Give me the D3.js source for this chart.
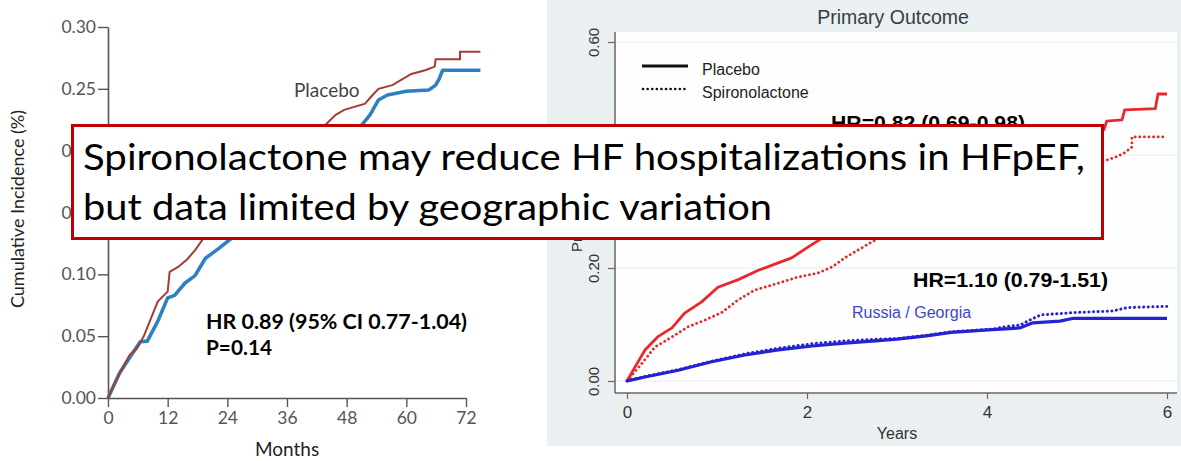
<!DOCTYPE html>
<head>
<meta charset="utf-8">
<script src="https://cdn.jsdelivr.net/npm/d3@7"></script>
<style>
body { margin: 0; background: #fff; }
svg { display: block; }
.lt text { font-family: Lato, "Open Sans", sans-serif; }
.rt text { font-family: "Liberation Sans", Arial, sans-serif; }
</style>
</head>
<body>
<svg id="chart" width="1181" height="461"></svg>
<script>
// ---- left panel data (months, cumulative incidence) ----
var monthTicks = [0, 12, 24, 36, 48, 60, 72];
var incTicks = [0, 0.05, 0.10, 0.15, 0.20, 0.25, 0.30];

var placeboAll = [[0,0],[1,0.009],[2,0.017],[3,0.025],[4.4,0.035],[5.8,0.040],[7.2,0.050],[8.6,0.064],
  [10,0.078],[12,0.086],[12.4,0.102],[14.1,0.106],[15.9,0.112],[17.6,0.12],[19,0.128],[21,0.137],
  [24,0.15],[27,0.162],[30,0.175],[33,0.186],[36,0.196],[39,0.205],[42,0.215],[44,0.222],[45.8,0.229],
  [47.5,0.233],[51.7,0.238],[53,0.244],[54.4,0.25],[57.2,0.253],[59.3,0.258],[61,0.262],[63.8,0.265],
  [65.7,0.268],[65.9,0.274],[70.8,0.274],[70.8,0.28],[74.9,0.28]];
var spiroAll = [[0,0],[2.3,0.02],[4.4,0.033],[6.5,0.0455],[7.9,0.046],[10,0.062],[12,0.081],[13.4,0.083],
  [15.5,0.093],[17.5,0.099],[19.6,0.113],[22.3,0.121],[25.1,0.13],[28,0.142],[32,0.158],[36,0.172],
  [40,0.186],[44,0.198],[48,0.21],[51.3,0.222],[52.7,0.229],[54.4,0.241],[56.2,0.245],[60,0.248],
  [64.5,0.249],[65.2,0.251],[65.9,0.253],[66.6,0.258],[67.3,0.265],[74.9,0.265]];

// ---- right panel data (years, proportion) ----
var yearTicks = [0, 2, 4, 6];
var propTicks = [0, 0.2, 0.4, 0.6];

var amPlacebo = [[0,0],[0.09,0.025],[0.2,0.055],[0.34,0.078],[0.5,0.094],[0.64,0.12],[0.83,0.14],
  [1.01,0.166],[1.23,0.179],[1.46,0.196],[1.68,0.209],[1.83,0.218],[2.01,0.237],[2.17,0.253],
  [2.5,0.28],[3.0,0.32],[3.5,0.36],[4.0,0.39],[4.5,0.415],[5.0,0.435],[5.3,0.445],[5.33,0.46],
  [5.5,0.462],[5.53,0.48],[5.87,0.482],[5.9,0.508],[6.0,0.508]];
var amSpiro = [[0,0],[0.17,0.032],[0.31,0.06],[0.5,0.078],[0.68,0.096],[0.87,0.108],[1.06,0.122],
  [1.23,0.143],[1.42,0.161],[1.68,0.173],[1.9,0.184],[2.12,0.191],[2.28,0.202],[2.42,0.218],
  [2.57,0.232],[2.72,0.246],[3.0,0.27],[3.5,0.31],[4.0,0.34],[4.5,0.365],[5.0,0.38],[5.33,0.391],
  [5.44,0.397],[5.52,0.403],[5.61,0.414],[5.61,0.432],[6.0,0.432]];
var rgPlacebo = [[0,0],[0.2,0.007],[0.57,0.019],[0.94,0.034],[1.31,0.046],[1.68,0.055],[2.06,0.062],
  [2.42,0.067],[2.76,0.071],[3.0,0.074],[3.33,0.08],[3.6,0.086],[4.06,0.091],[4.37,0.094],
  [4.51,0.103],[4.81,0.106],[4.96,0.111],[6.0,0.111]];
var rgSpiro = [[0,0],[0.2,0.008],[0.57,0.02],[0.94,0.035],[1.31,0.048],[1.68,0.058],[2.06,0.066],
  [2.42,0.071],[2.76,0.074],[3.0,0.075],[3.33,0.081],[3.6,0.087],[4.07,0.092],[4.2,0.096],
  [4.37,0.099],[4.5,0.11],[4.6,0.117],[4.96,0.121],[5.4,0.124],[5.56,0.13],[6.0,0.132]];

var svg = d3.select("#chart");

// ================= right panel =================
var rt = svg.append("g").attr("class", "rt");
rt.append("rect").attr("x", 547).attr("y", 0).attr("width", 634).attr("height", 446).attr("fill", "#eaeff2");
rt.append("rect").attr("x", 615).attr("y", 32).attr("width", 562).attr("height", 361).attr("fill", "#fefefe");

var xr = d3.scaleLinear().domain([0, 6]).range([627, 1167]);
var yr = d3.scaleLinear().domain([0, 0.6]).range([381, 42]);

rt.selectAll("line.grid").data(propTicks).enter().append("line")
  .attr("class", "grid")
  .attr("x1", 615).attr("x2", 1177)
  .attr("y1", d => yr(d)).attr("y2", d => yr(d))
  .attr("stroke", "#eef1f3").attr("stroke-width", 1.5);

rt.append("text").attr("x", 893).attr("y", 24).attr("text-anchor", "middle")
  .attr("font-size", 19.5).attr("fill", "#353d48").text("Primary Outcome");

var axL = rt.append("g").attr("transform", "translate(615,0)")
  .call(d3.axisLeft(yr).tickValues(propTicks).tickFormat(d3.format(".2f")).tickSize(7).tickSizeOuter(0));
axL.select(".domain").attr("d", "M0,32V393").attr("stroke", "#666").attr("stroke-width", 1.5);
axL.selectAll(".tick line").attr("stroke", "#666").attr("stroke-width", 1.2);
axL.selectAll(".tick text").attr("font-size", 15).attr("fill", "#333")
  .attr("transform", "rotate(-90)").attr("text-anchor", "middle").attr("x", 0).attr("y", -16).attr("dy", 0);

var axB = rt.append("g").attr("transform", "translate(0,393)")
  .call(d3.axisBottom(xr).tickValues(yearTicks).tickFormat(d3.format("d")).tickSize(6).tickSizeOuter(0));
axB.select(".domain").attr("d", "M615,0H1177").attr("stroke", "#666").attr("stroke-width", 1.5);
axB.selectAll(".tick line").attr("stroke", "#666").attr("stroke-width", 1.2);
axB.selectAll(".tick text").attr("font-size", 17).attr("fill", "#333").attr("y", 13);

rt.append("text").attr("x", 897).attr("y", 439).attr("text-anchor", "middle")
  .attr("font-size", 16).attr("fill", "#333").text("Years");
rt.append("text").attr("transform", "translate(582,252) rotate(-90)")
  .attr("font-size", 15).attr("fill", "#333").text("Probability");

var lineR = d3.line().x(d => xr(d[0])).y(d => yr(d[1]));
rt.append("path").datum(amSpiro).attr("d", lineR).attr("fill", "none")
  .attr("stroke", "#e8282b").attr("stroke-width", 2.8).attr("stroke-dasharray", "0.1,4.5").attr("stroke-linecap", "round");
rt.append("path").datum(amPlacebo).attr("d", lineR).attr("fill", "none")
  .attr("stroke", "#e8282b").attr("stroke-width", 2.8).attr("stroke-linejoin", "round");
rt.append("path").datum(rgSpiro).attr("d", lineR).attr("fill", "none")
  .attr("stroke", "#2323d4").attr("stroke-width", 3).attr("stroke-dasharray", "0.1,4.5").attr("stroke-linecap", "round");
rt.append("path").datum(rgPlacebo).attr("d", lineR).attr("fill", "none")
  .attr("stroke", "#2323d4").attr("stroke-width", 3.2).attr("stroke-linejoin", "round");

// legend
rt.append("line").attr("x1", 642).attr("x2", 688).attr("y1", 66).attr("y2", 66)
  .attr("stroke", "#111").attr("stroke-width", 3);
rt.append("line").attr("x1", 643).attr("x2", 688).attr("y1", 89).attr("y2", 89)
  .attr("stroke", "#111").attr("stroke-width", 2.6).attr("stroke-dasharray", "0.1,4.5").attr("stroke-linecap", "round");
rt.append("text").attr("x", 702).attr("y", 75).attr("font-size", 16).attr("fill", "#222").text("Placebo");
rt.append("text").attr("x", 702).attr("y", 98).attr("font-size", 16).attr("fill", "#222").text("Spironolactone");

rt.append("text").attr("x", 852).attr("y", 318).attr("font-size", 16).attr("fill", "#4046c8").text("Russia / Georgia");

rt.append("text").attr("x", 831).attr("y", 130).attr("font-family", "Lato, sans-serif").attr("font-weight", "bold")
  .attr("font-size", 21).attr("fill", "#000").attr("textLength", 194).attr("lengthAdjust", "spacingAndGlyphs")
  .text("HR=0.82 (0.69-0.98)");
rt.append("text").attr("x", 913).attr("y", 287).attr("font-family", "Lato, sans-serif").attr("font-weight", "bold")
  .attr("font-size", 21).attr("fill", "#000").attr("textLength", 195).attr("lengthAdjust", "spacingAndGlyphs")
  .text("HR=1.10 (0.79-1.51)");

// ================= left panel =================
var lt = svg.append("g").attr("class", "lt");
var xl = d3.scaleLinear().domain([0, 72]).range([108, 466]);
var yl = d3.scaleLinear().domain([0, 0.30]).range([398, 27]);

var lAx = lt.append("g").attr("transform", "translate(108,0)")
  .call(d3.axisLeft(yl).tickValues(incTicks).tickFormat(d3.format(".2f")).tickSize(10).tickSizeOuter(0));
var bAx = lt.append("g").attr("transform", "translate(0,398)")
  .call(d3.axisBottom(xl).tickValues(monthTicks).tickSize(9).tickSizeOuter(0));
[lAx, bAx].forEach(function(a) {
  a.select(".domain").attr("stroke", "#555").attr("stroke-width", 1.6);
  a.selectAll(".tick line").attr("stroke", "#555").attr("stroke-width", 1.4);
  a.selectAll(".tick text").attr("font-size", 17.5).attr("fill", "#555");
});
lAx.selectAll(".tick text").attr("x", -12);
bAx.selectAll(".tick text").attr("y", 14);

lt.append("text").attr("x", 287).attr("y", 456).attr("text-anchor", "middle")
  .attr("font-size", 19).attr("fill", "#222").text("Months");
lt.append("text").attr("transform", "translate(24,209) rotate(-90)").attr("text-anchor", "middle")
  .attr("font-size", 18).attr("fill", "#222").text("Cumulative Incidence (%)");

var lineL = d3.line().x(d => xl(d[0])).y(d => yl(d[1]));
lt.append("path").datum(spiroAll).attr("d", lineL).attr("fill", "none")
  .attr("stroke", "#2f80c3").attr("stroke-width", 3.6).attr("stroke-linejoin", "round");
lt.append("path").datum(placeboAll).attr("d", lineL).attr("fill", "none")
  .attr("stroke", "#a63b33").attr("stroke-width", 2);

lt.append("text").attr("x", 294).attr("y", 97).attr("font-size", 19).attr("fill", "#444").text("Placebo");

lt.append("text").attr("x", 206).attr("y", 329).attr("font-weight", "bold").attr("font-size", 21)
  .attr("fill", "#000").attr("textLength", 261).attr("lengthAdjust", "spacingAndGlyphs")
  .text("HR 0.89 (95% CI 0.77-1.04)");
lt.append("text").attr("x", 206).attr("y", 355).attr("font-weight", "bold").attr("font-size", 21)
  .attr("fill", "#000").attr("textLength", 66).attr("lengthAdjust", "spacingAndGlyphs")
  .text("P=0.14");

// ================= overlay box =================
var box = svg.append("g");
box.append("rect").attr("x", 72.5).attr("y", 125.5).attr("width", 1030).attr("height", 113)
  .attr("fill", "#fff").attr("stroke", "#c00000").attr("stroke-width", 3);
box.append("text").attr("x", 83).attr("y", 170).attr("font-family", "Lato, 'Open Sans', sans-serif")
  .attr("font-size", 37).attr("fill", "#000").attr("textLength", 1002).attr("lengthAdjust", "spacingAndGlyphs")
  .text("Spironolactone may reduce HF hospitalizations in HFpEF,");
box.append("text").attr("x", 83).attr("y", 220).attr("font-family", "Lato, 'Open Sans', sans-serif")
  .attr("font-size", 37).attr("fill", "#000").attr("textLength", 689).attr("lengthAdjust", "spacingAndGlyphs")
  .text("but data limited by geographic variation");
</script>
</body>
